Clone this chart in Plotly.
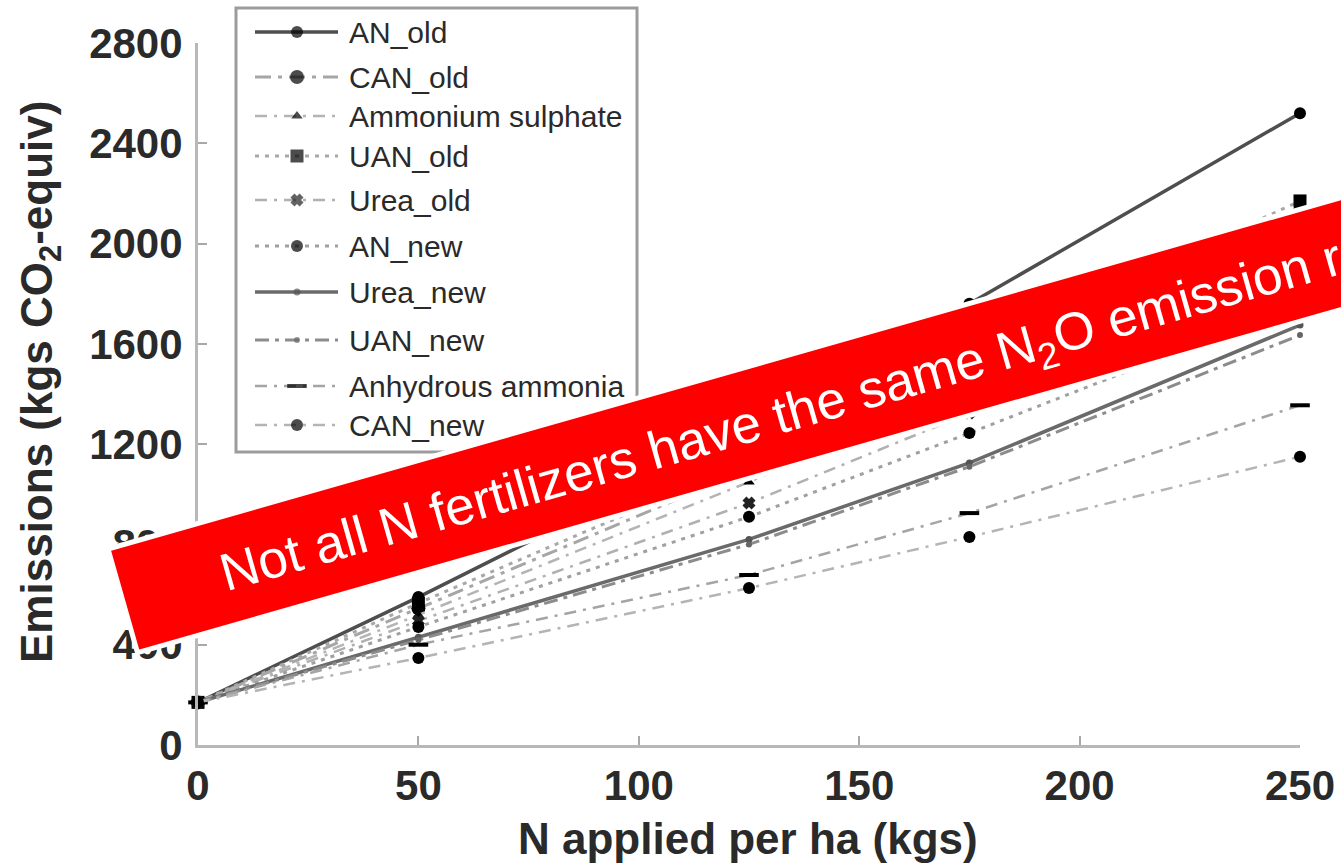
import plotly.graph_objects as go

W, H = 1341, 864

# N applied per ha (kg) and emissions (kg CO2-equiv) per fertilizer
n_applied = [0, 50, 125, 175, 250]
an_old = [170, 590, 1250, 1760, 2520]
can_old = [170, 545, 1100, 1520, 2130]
amm_sulphate = [170, 519, 1049, 1420, 1960]
uan_old = [170, 566, 1130, 1560, 2170]
urea_old = [170, 495, 965, 1324, 1850]
an_new = [170, 471, 910, 1244, 1760]
urea_new = [170, 430, 820, 1125, 1675]
uan_new = [170, 419, 800, 1110, 1635]
anhydrous = [170, 400, 678, 925, 1355]
can_new = [170, 347, 626, 830, 1150]

series_names = ["AN_old", "CAN_old", "Ammonium sulphate", "UAN_old", "Urea_old",
                "AN_new", "Urea_new", "UAN_new", "Anhydrous ammonia", "CAN_new"]
series_values = [an_old, can_old, amm_sulphate, uan_old, urea_old,
                 an_new, urea_new, uan_new, anhydrous, can_new]

x_ticks = [0, 50, 100, 150, 200, 250]
y_ticks = [0, 400, 800, 1200, 1600, 2000, 2400, 2800]

banner_text = "Not all N fertilizers have the same N<sub>2</sub>O emission rates"

# line dash, line colour, line width, marker symbol, marker size, marker colour
styles = {
    "AN_old": ("solid", "#4e4e4e", 3.5, "circle", 12, "black"),
    "CAN_old": ("16px,7px,4px,7px", "#a6a6a6", 3, "circle", 14, "black"),
    "Ammonium sulphate": ("12px,7px,3px,7px", "#b4b4b4", 2.5, "triangle-up", 10, "black"),
    "UAN_old": ("4px,6px", "#a8a8a8", 3, "square", 13, "black"),
    "Urea_old": ("12px,7px,3px,7px", "#b0b0b0", 2.5, "x", 9, "#222"),
    "AN_new": ("4px,6px", "#a0a0a0", 3, "circle", 12, "black"),
    "Urea_new": ("solid", "#6a6a6a", 3.5, "circle", 7, "#555"),
    "UAN_new": ("14px,6px,4px,6px", "#8c8c8c", 3, "circle", 6, "#666"),
    "Anhydrous ammonia": ("12px,7px,3px,7px", "#a4a4a4", 2.5, "line-ew", 14, "black"),
    "CAN_new": ("12px,7px,3px,7px", "#b4b4b4", 2.5, "circle", 12, "black"),
}

font_family = "Liberation Sans, Arial, sans-serif"
text_col = "#2a2a2a"


def marker_line_width(sym):
    if sym == "line-ew":
        return 4
    if sym == "x":
        return 2
    return 0


fig = go.Figure()

for name, vals in zip(series_names, series_values):
    dash, lc, lw, sym, ms, mc = styles[name]
    fig.add_trace(go.Scatter(
        x=n_applied, y=vals, name=name, mode="lines+markers",
        line=dict(color=lc, width=lw, dash=dash),
        marker=dict(symbol=sym, size=ms, color=mc,
                    line=dict(color=mc, width=marker_line_width(sym))),
        cliponaxis=False, showlegend=False, xaxis="x", yaxis="y",
    ))

# hand-drawn legend in a pixel-space overlay
legend_y = [32, 77, 116, 156, 200, 246, 292, 340, 386, 425]
for name, ly in zip(series_names, legend_y):
    dash, lc, lw, sym, ms, mc = styles[name]
    fig.add_trace(go.Scatter(
        x=[255, 297, 338], y=[ly, ly, ly], mode="lines+markers",
        line=dict(color=lc, width=lw, dash=dash),
        marker=dict(symbol=sym, size=[0, ms, 0], color=mc,
                    line=dict(color=mc, width=marker_line_width(sym))),
        showlegend=False, hoverinfo="skip", xaxis="x2", yaxis="y2",
    ))
    fig.add_annotation(x=347, y=ly, xref="x2", yref="y2", text=name, showarrow=False,
                       xanchor="left", yanchor="middle",
                       font=dict(family=font_family, size=30, color=text_col))

# axis titles
fig.add_annotation(x=748, y=838, xref="x2", yref="y2", text="<b>N applied per ha (kgs)</b>",
                   showarrow=False, font=dict(family=font_family, size=44, color=text_col))
fig.add_annotation(x=40, y=382, xref="x2", yref="y2",
                   text="<b>Emissions (kgs CO<sub>2</sub>-equiv)</b>", textangle=-90,
                   showarrow=False, font=dict(family=font_family, size=44, color=text_col))

# tilted banner
slope = 0.285
tl = (108, 549)
bl = (137.5, 652.6)
xr = 1500
tr = (xr, tl[1] - slope * (xr - tl[0]))
br = (tr[0] + (bl[0] - tl[0]), tr[1] + (bl[1] - tl[1]))
banner_path = "M{},{} L{},{} L{},{} L{},{} Z".format(tl[0], tl[1], tr[0], tr[1],
                                                    br[0], br[1], bl[0], bl[1])

shapes = [
    dict(type="rect", xref="x2", yref="y2", x0=236, x1=637, y0=8, y1=452,
         line=dict(color="#9c9c9c", width=3), fillcolor="white", layer="below"),
    dict(type="path", xref="x2", yref="y2", path=banner_path,
         fillcolor="#ff0000", line=dict(color="white", width=5), layer="above"),
]

fig.add_annotation(x=830, y=404, xref="x2", yref="y2", text=banner_text, textangle=-15.9,
                   showarrow=False, xanchor="center", yanchor="middle",
                   font=dict(family=font_family, size=53, color="white"))

axis_common = dict(ticks="inside", ticklen=9, tickwidth=2, tickcolor="#a8a8a8",
                   showline=True, linewidth=3, linecolor="#b8b8b8",
                   showgrid=False, zeroline=False, fixedrange=True, automargin=False,
                   tickfont=dict(family=font_family, size=42, color=text_col,
                                 weight="bold"))

fig.update_layout(
    width=W, height=H, autosize=False,
    margin=dict(l=0, r=0, t=0, b=0, pad=0, autoexpand=False),
    paper_bgcolor="white", plot_bgcolor="rgba(0,0,0,0)",
    showlegend=False, shapes=shapes,
    xaxis=dict(domain=[198 / W, 1300 / W], range=[0, 250], tickvals=x_ticks,
               anchor="y", ticklabelstandoff=2, **axis_common),
    yaxis=dict(domain=[(H - 745) / H, (H - 43) / H], range=[0, 2800], tickvals=y_ticks,
               anchor="x", ticklabelstandoff=4, **axis_common),
    xaxis2=dict(domain=[0, 1], range=[0, W], visible=False, anchor="y2",
                fixedrange=True, automargin=False),
    yaxis2=dict(domain=[0, 1], range=[H, 0], visible=False, anchor="x2",
                fixedrange=True, automargin=False),
)

fig.write_html("out.html")
